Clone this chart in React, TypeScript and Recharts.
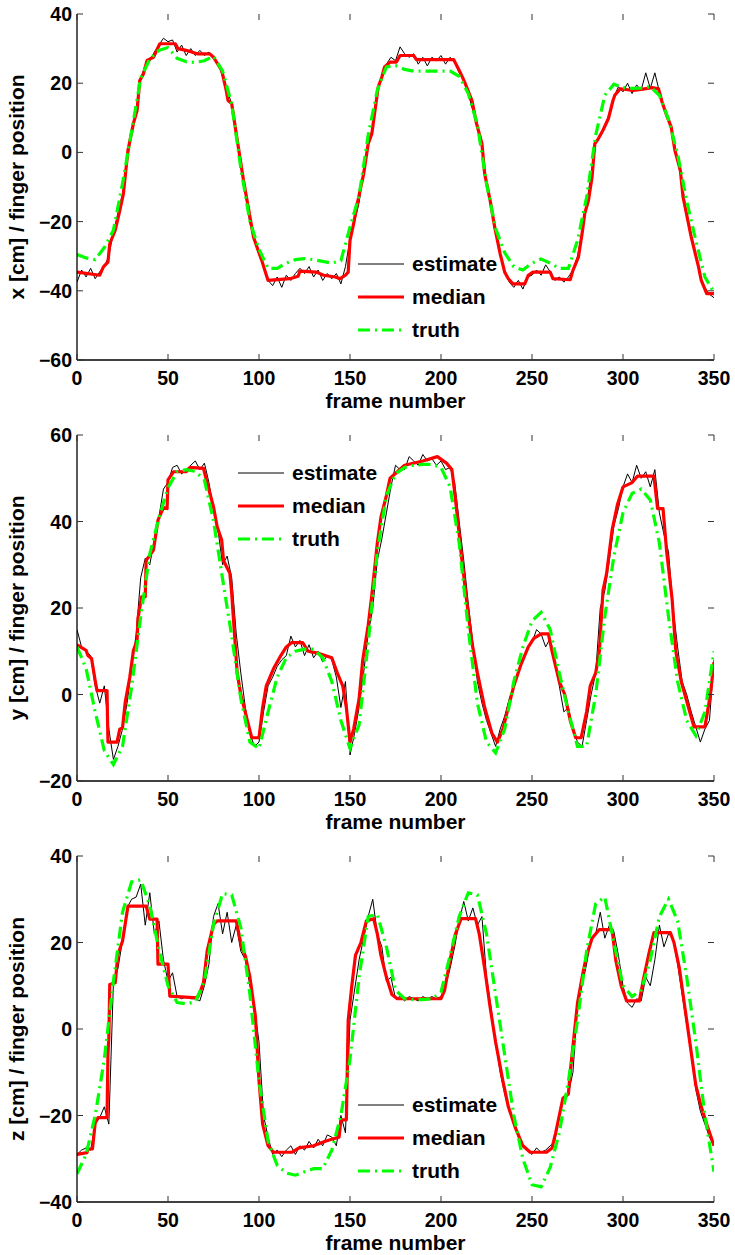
import React from 'react';
import { LineChart, Line, XAxis, YAxis, Legend } from 'recharts';

const FONT = '"Liberation Sans", Arial, Helvetica, sans-serif';
const W = 735;
const H = 421;
const PL = 77;
const PR = 714;
const PT = 14;
const PB = 360;

const frameTicks = [0, 50, 100, 150, 200, 250, 300, 350];
const frames5 = Array.from({ length: 71 }, (_, i) => i * 5);
const frames25 = Array.from({ length: 141 }, (_, i) => i * 2.5);

// ---------- panel 1 : x ----------
const xTruth = [
  -29.5, -30.5, -31, -27.5, -22.5, -9, 6, 21.5, 27, 29.5,
  30.3, 27.2, 26.2, 26, 26.5, 27.8, 23.5, 14, -4.5, -20,
  -28, -33.5, -33.5, -32, -31, -30.7, -31, -31.5, -32, -31.3,
  -21.6, -12.5, 5, 18, 24.7, 25.1, 24, 23.5, 23.5, 23.5,
  23.5, 23.5, 22, 17, 8, -9, -22, -29, -33, -34,
  -32, -30.8, -32, -33.5, -33.5, -25.5, -13, 5, 16.5, 19.7,
  18.7, 18.5, 18.6, 19, 16.5, 9.5, -0.5, -14, -25.5, -36,
  -40.5,
];
const xMedianFrames = [
  0, 12.5, 14.5, 17, 18, 21, 23.5, 25.5, 28, 31, 33, 34.5, 36.5, 38.5, 42, 45.5,
  54, 55.5, 60, 66, 73, 75, 79.5, 82, 83, 85, 87.5, 91.5, 97, 99.5, 101.5, 103.5,
  105, 117, 121.5, 122.5, 131.5, 135.5, 142, 144.5, 147.5, 149, 150, 152, 154, 157.5,
  160, 162, 163.5, 165.5, 167.5, 169, 172, 175.5, 177.5, 185, 186.5, 207, 210.5, 213, 217, 219.5,
  222.5, 224, 227, 229.5, 232.5, 235, 237, 239.5, 246, 248, 250.5, 260, 261.5, 271, 272.5, 275.5,
  277.5, 279, 281, 283, 284.5, 286.5, 289, 292, 294.5, 295.5, 298.5, 305.5, 311, 316, 319.5, 321.5,
  324, 326.5, 328.5, 330.5, 331.5, 333, 337.5, 341.5, 343, 346, 350,
];
const xMedianValues = [
  -34.6, -35.5, -33.1, -31.7, -26.4, -22.5, -16.8, -11.9, 0.6, 8.4, 12.1, 20.8, 22.7, 26.6, 27.5, 31.4,
  31.4, 30, 29.5, 28.5, 28.5, 27.5, 23.7, 17.9, 15, 14.1, 5.4, -8.1, -24.5, -28.3, -31.2, -34.6,
  -37, -36.5, -35.8, -34.3, -34.6, -35.5, -36, -36.5, -35.5, -34.6, -25.4, -20.6, -14.8, -6.2,
  2.5, 5.4, 11.2, 18.9, 21.8, 24.7, 26.1, 26.1, 28, 28, 26.8, 26.8, 23.2, 20.3, 15, 8.4,
  2.5, -6.2, -13.9, -21.6, -29.3, -34.6, -36.5, -38, -38, -35.5, -34.6, -34.6, -36.5, -36.8, -34.1, -30.3,
  -23.5, -17.6, -13.9, -7.1, 2.5, 4, 6.4, 9.8, 15, 16.5, 18.4, 17.9, 18.3, 18.7, 18.4, 14.5,
  10.7, 7.3, 0.6, -3.2, -5.2, -12.9, -24.5, -33.1, -37, -40.8, -40.8,
];
const xEstimate = [
  -37.5, -34, -36, -33.5, -36.5, -34.5, -33, -30, -23, -17.5,
  -12, -3, 5.5, 12, 21.5, 25, 26.5, 29, 31, 33,
  32, 32.5, 29, 31, 28, 30, 28, 29.5, 28, 29,
  27, 25.5, 22, 18, 14, 5.5, -3.5, -12, -20.5, -25.5,
  -29.5, -33, -37, -38.5, -36, -39, -35.5, -37, -35, -33.5,
  -35, -33, -36, -34, -37, -35, -36.5, -35, -38, -33,
  -25, -20, -14.5, -5, 3, 7, 17, 22, 25.5, 27.5,
  26.5, 30.5, 28.5, 27.5, 28.5, 25.5, 27.5, 25, 27.5, 26.5,
  28, 25.5, 27.5, 26, 23, 21, 17, 12, 7.5, 2,
  -8.5, -15, -23, -29.5, -34.5, -37.5, -39, -37, -39.5, -36,
  -35.5, -34, -35.5, -32.5, -34.5, -37, -36, -37.5, -36, -34,
  -30, -23, -15, -6, 3, 5, 8, 11, 16, 19,
  17.5, 20, 17, 19.5, 18, 23, 18.5, 23, 17.5, 13,
  9.5, 5, -2.5, -9, -18, -24, -30, -36, -39, -41,
  -42,
];

// ---------- panel 2 : y ----------
const yTruth = [
  11, 6, -4, -13, -16.2, -12, 1.7, 18, 32.5, 40.8,
  47.8, 51.5, 52, 51.6, 49.6, 40.2, 26.7, 13.5, -1, -11,
  -12.5, -4, 4, 8.5, 10, 10.5, 10.5, 8.5, 3, -6,
  -12.5, -7, 12, 33, 46, 51, 52.5, 53, 53.2, 53.2,
  52.5, 48, 35, 15, -2, -11, -13.5, -8, 3, 11,
  17, 19, 15, 5, -4, -12, -12, 0, 18, 32,
  42, 46.5, 47.5, 45, 35, 18, 3, -6, -9.5, -4,
  10,
];
const yMedianFrames = [
  0, 5, 6, 8, 10, 11, 16.5, 17, 22, 23.5, 25, 26.5, 29, 31, 33, 33.5,
  35.5, 37.5, 38, 42, 44.5, 47.5, 49.5, 50, 53, 60, 62, 69.5, 71.5, 75, 77, 79.5,
  80.5, 84, 85, 86, 88, 90, 93, 96, 100, 102, 104, 108, 112, 115, 118, 124,
  127, 133, 140, 143, 146, 148, 150, 152, 155, 157, 160, 162, 165, 167, 170, 172,
  176, 180, 190, 198, 203, 206, 208, 211, 214, 217, 220, 224, 228, 231, 234, 237,
  240, 244, 248, 251, 255, 259, 261, 265, 268, 271, 274, 277, 280, 282, 285, 287,
  289, 291, 294, 297, 300, 305, 308, 317, 319, 322, 324, 327, 329, 332, 336, 339,
  345, 348, 350,
];
const yMedianValues = [
  11.5, 10.2, 9, 8.3, 3.2, 0.9, 0.9, -11, -11, -8, -7.7, -1.8, 4, 10.2, 12.5, 17.6,
  22.6, 22.6, 31, 33.4, 40.3, 43.2, 43, 49.6, 51.5, 51.5, 52.5, 52.3, 48.9, 43.4, 38.8, 35.7,
  31, 28, 23.4, 17.2, 5, 0, -5, -10, -10, -3, 2, 6, 9, 11, 12, 12,
  10, 9.5, 8.5, 5, 2, -3, -11, -8, -1, 8, 16, 23, 35, 41, 46, 50,
  51.5, 53, 54, 55, 53.5, 52, 45, 33, 22, 12, 5, -3, -9, -11, -8, -3,
  2, 7, 11, 13, 14, 14, 10, 3, 0, -6, -10, -10, -4, 2, 5, 10,
  24, 28, 38, 44, 48, 49, 50.5, 50.5, 43, 43, 33, 22, 10, 3, -3, -7.5,
  -7.5, 0, 7.5,
];
const yEstimate = [
  15, 11, 10, 9, 2, -2, 2, -8, -15, -12,
  -8, -2, 6, 14, 27, 31.5, 30, 36, 41, 47.5,
  49, 52.5, 53, 51, 52, 53, 54, 52, 53.5, 49,
  43, 38, 30, 32, 27, 14, 5, -3, -9, -12,
  -11, -4, 2, 4, 6.5, 8, 9, 13.5, 11, 12.5,
  9, 11.5, 8.5, 10, 7.5, 9, 8, 4, -3, 3,
  -14, -9, -3, 5, 14, 20, 31, 36, 42, 48,
  53, 52, 52, 55, 54, 53, 55.5, 54, 54.5, 53,
  54, 52, 52.5, 49, 40, 31, 21, 12, 3, -2,
  -6, -9, -12, -8, -5, -1, 2, 5, 8, 11,
  12, 15, 14, 11, 13, 8, 2, -4, -3, -8,
  -11, -12, -6, 0, 5, 20, 24, 31, 39, 43,
  48, 51, 49, 53, 50, 51.5, 48, 52, 42, 37,
  33, 20, 11, 3, 0, -4, -7.5, -11, -8, -6,
  8,
];

// ---------- panel 3 : z ----------
const zTruth = [
  -33.5, -29, -20, -7, 11, 27, 34, 34.5, 28.5, 18.5,
  10, 6.1, 5.8, 6.3, 11, 24.2, 31.3, 31, 23.5, 8,
  -12, -26, -31.5, -33.3, -33.8, -33, -32.3, -32.3, -28, -20,
  -7, 12, 26, 26.5, 19, 9, 7, 6.8, 6.8, 7,
  8.5, 17, 26, 31.5, 31, 22, 8, -6, -20, -30,
  -36, -36.5, -32, -24, -12, 2, 18, 29, 30.5, 20,
  10, 7.5, 9, 16, 26, 30, 25, 12, -3, -20,
  -33,
];
const zMedianFrames = [
  0, 5.5, 6, 8.5, 10, 11.5, 16.5, 17, 17.5, 18, 21, 22.5, 25, 28, 38, 40,
  44, 44.5, 50, 51, 66, 67.5, 69.5, 71.5, 75, 77, 87.5, 90.5, 92.5, 95, 98, 100,
  102, 105, 108, 118, 122, 130, 136, 140, 144, 145, 148, 149, 151, 153, 156, 159,
  163, 165, 167, 170, 173, 176, 200, 202, 205, 208, 211, 219, 221, 224, 227, 230,
  234, 237, 241, 245, 249, 258, 261, 263, 265, 267, 270, 271, 273, 275, 278, 280,
  283, 287, 294, 296, 299, 302, 309, 311, 314, 317, 326, 328, 331, 334, 337, 340,
  343, 346, 350,
];
const zMedianValues = [
  -29, -28.6, -27.8, -27.7, -21.7, -20.5, -20.5, -6, -2, 10.3, 10.7, 17.3, 20.3, 28.4, 28.4, 25.4,
  25.4, 15, 15, 7.6, 7.2, 8.4, 10.7, 18, 24.2, 25, 25, 18.8, 16.9, 12, 3, -12,
  -22, -27, -28.5, -28.5, -27.5, -27, -26, -25.5, -25, -21, -21, 2, 10, 17, 20, 25,
  25.5, 22, 17, 12, 8, 7, 7, 9, 16, 22, 25.5, 25.5, 22, 14, 5, -3,
  -12, -18, -23, -27, -28.5, -28.5, -27.5, -24, -20, -16, -15, -10, -2, 6, 13, 17,
  21, 23, 23, 16, 10, 6.5, 6.5, 11, 17, 22.3, 22.3, 20, 14, 5, -4, -13,
  -18, -22, -27,
];
const zEstimate = [
  -29, -28, -27.5, -28, -22, -20.5, -18, -22, 10.5, 14,
  20.5, 28, 30, 30.5, 33.5, 24, 31.5, 22, 25, 16,
  11, 13, 7.5, 7, 7.5, 7, 7, 6.5, 10, 15,
  26, 29, 22, 27, 20, 24, 18, 16, 10, 5,
  -3, -20, -25, -29, -28, -29.5, -28, -27, -29, -27,
  -28, -26, -27.5, -25.5, -27, -24.5, -25, -27, -20, -24,
  2, 9, 16, 21, 26, 30, 22, 19, 11, 12,
  7, 7.5, 6.5, 7.5, 7, 6.5, 7.5, 7, 7.5, 7,
  7.5, 10, 14, 19, 25, 29.5, 25, 28, 24, 26,
  12, 5, -3, -10, -15, -19, -22, -25, -27, -28,
  -29, -27.5, -28.5, -28, -27, -26, -20, -16, -15, -10,
  5, 10, 15, 21, 22, 27, 21, 24, 22.5, 17,
  10, 6, 5, 7, 6.5, 12, 10, 16, 24, 19,
  22, 21, 15, 8, 1, -5, -14, -19, -22, -25,
  -27,
];

const toPoints = (frames: number[], values: number[]) =>
  frames.map((f, i) => ({ f, v: values[i] }));

const fmt = (v: number) => (v < 0 ? '\u2212' + Math.abs(v) : String(v));

const TICK_COLOR = '#333';
const AXIS_COLOR = '#000';

function XTick(props: any) {
  const { x, payload } = props;
  return (
    <g>
      <line x1={x} x2={x} y1={PB} y2={PB - 6} stroke={TICK_COLOR} strokeWidth={1} />
      <line x1={x} x2={x} y1={PT} y2={PT + 6} stroke={TICK_COLOR} strokeWidth={1} />
      <text x={x} y={PB + 25} textAnchor="middle" fontFamily={FONT} fontWeight="bold" fontSize={19.5} fill="#000">
        {fmt(payload.value)}
      </text>
    </g>
  );
}

function YTick(props: any) {
  const { y, payload } = props;
  return (
    <g>
      <line x1={PL} x2={PL + 6} y1={y} y2={y} stroke={TICK_COLOR} strokeWidth={1} />
      <line x1={PR} x2={PR - 6} y1={y} y2={y} stroke={TICK_COLOR} strokeWidth={1} />
      <text x={PL - 5} y={y} dy="0.36em" textAnchor="end" fontFamily={FONT} fontWeight="bold" fontSize={19.5} fill="#000">
        {fmt(payload.value)}
      </text>
    </g>
  );
}

function XLabel() {
  return (
    <text x={(PL + PR) / 2} y={PB + 48} textAnchor="middle" fontFamily={FONT} fontWeight="bold" fontSize={21} fill="#000">
      frame number
    </text>
  );
}

function YLabel({ text }: { text: string }) {
  const cx = 24;
  const cy = (PT + PB) / 2;
  return (
    <text x={cx} y={cy} transform={`rotate(-90 ${cx} ${cy})`} textAnchor="middle" fontFamily={FONT} fontWeight="bold" fontSize={21} fill="#000">
      {text}
    </text>
  );
}

const legendItems = [
  { name: 'estimate', color: '#000', width: 1, dash: undefined as string | undefined },
  { name: 'median', color: '#ff0000', width: 3.2, dash: undefined as string | undefined },
  { name: 'truth', color: '#00ff00', width: 3.2, dash: '12 5 2 5' },
];

function LegendBox() {
  return (
    <div style={{ fontFamily: FONT, fontWeight: 'bold', fontSize: 21, color: '#000', lineHeight: '24px' }}>
      {legendItems.map((it) => (
        <div key={it.name} style={{ display: 'flex', alignItems: 'center', height: 33 }}>
          <svg width={46} height={10} style={{ display: 'block' }}>
            <line x1={0} x2={46} y1={5} y2={5} stroke={it.color} strokeWidth={it.width} strokeDasharray={it.dash} />
          </svg>
          <span style={{ marginLeft: 8 }}>{it.name}</span>
        </div>
      ))}
    </div>
  );
}

type PanelProps = {
  top: number;
  yDomain: [number, number];
  yTicks: number[];
  yLabel: string;
  est: number[];
  medFrames: number[];
  med: number[];
  tru: number[];
  legendLeft: number;
  legendTop: number;
};

function Panel({ top, yDomain, yTicks, yLabel, est, medFrames, med, tru, legendLeft, legendTop }: PanelProps) {
  const estData = toPoints(frames25, est);
  const medData = toPoints(medFrames, med);
  const truData = toPoints(frames5, tru);
  return (
    <div style={{ position: 'absolute', left: 0, top, width: W, height: H }}>
      <LineChart width={W} height={H} margin={{ top: PT, right: W - PR, left: 0, bottom: 0 }}>
        <XAxis
          dataKey="f"
          type="number"
          domain={[0, 350]}
          ticks={frameTicks}
          interval={0}
          height={61}
          tickSize={0}
          tickMargin={0}
          tickLine={false}
          tick={<XTick />}
          axisLine={{ stroke: AXIS_COLOR, strokeWidth: 1.3 }}
          label={<XLabel />}
          allowDataOverflow
        />
        <XAxis
          xAxisId="top"
          orientation="top"
          type="number"
          domain={[0, 350]}
          height={0}
          tick={false}
          tickLine={false}
          axisLine={{ stroke: AXIS_COLOR, strokeWidth: 1.3 }}
        />
        <YAxis
          type="number"
          domain={yDomain}
          ticks={yTicks}
          interval={0}
          width={PL}
          tickSize={0}
          tickMargin={0}
          tickLine={false}
          tick={<YTick />}
          axisLine={{ stroke: AXIS_COLOR, strokeWidth: 1.3 }}
          label={<YLabel text={yLabel} />}
          allowDataOverflow
        />
        <YAxis
          yAxisId="right"
          orientation="right"
          type="number"
          domain={yDomain}
          width={0}
          tick={false}
          tickLine={false}
          axisLine={{ stroke: AXIS_COLOR, strokeWidth: 1.3 }}
        />
        <Line data={estData} dataKey="v" name="estimate" type="linear" stroke="#000" strokeWidth={1} dot={false} activeDot={false} isAnimationActive={false} />
        <Line data={medData} dataKey="v" name="median" type="linear" stroke="#ff0000" strokeWidth={3.2} dot={false} activeDot={false} isAnimationActive={false} strokeLinejoin="round" />
        <Line data={truData} dataKey="v" name="truth" type="linear" stroke="#00ff00" strokeWidth={3.2} strokeDasharray="12 5 2 5" dot={false} activeDot={false} isAnimationActive={false} />
        <Legend
          layout="vertical"
          align="center"
          verticalAlign="middle"
          content={<LegendBox />}
          wrapperStyle={{ position: 'absolute', left: legendLeft, top: legendTop, width: 150, height: 99, right: 'auto', bottom: 'auto' }}
        />
      </LineChart>
    </div>
  );
}

export default function App() {
  return (
    <div style={{ position: 'absolute', left: 0, top: 0, width: 735, height: 1255, background: '#fff' }}>
      <Panel top={0} yDomain={[-60, 40]} yTicks={[-60, -40, -20, 0, 20, 40]} yLabel="x [cm] / finger position"
        est={xEstimate} medFrames={xMedianFrames} med={xMedianValues} tru={xTruth} legendLeft={358} legendTop={247} />
      <Panel top={421} yDomain={[-20, 60]} yTicks={[-20, 0, 20, 40, 60]} yLabel="y [cm] / finger position"
        est={yEstimate} medFrames={yMedianFrames} med={yMedianValues} tru={yTruth} legendLeft={238} legendTop={35} />
      <Panel top={842} yDomain={[-40, 40]} yTicks={[-40, -20, 0, 20, 40]} yLabel="z [cm] / finger position"
        est={zEstimate} medFrames={zMedianFrames} med={zMedianValues} tru={zTruth} legendLeft={358} legendTop={246} />
    </div>
  );
}
